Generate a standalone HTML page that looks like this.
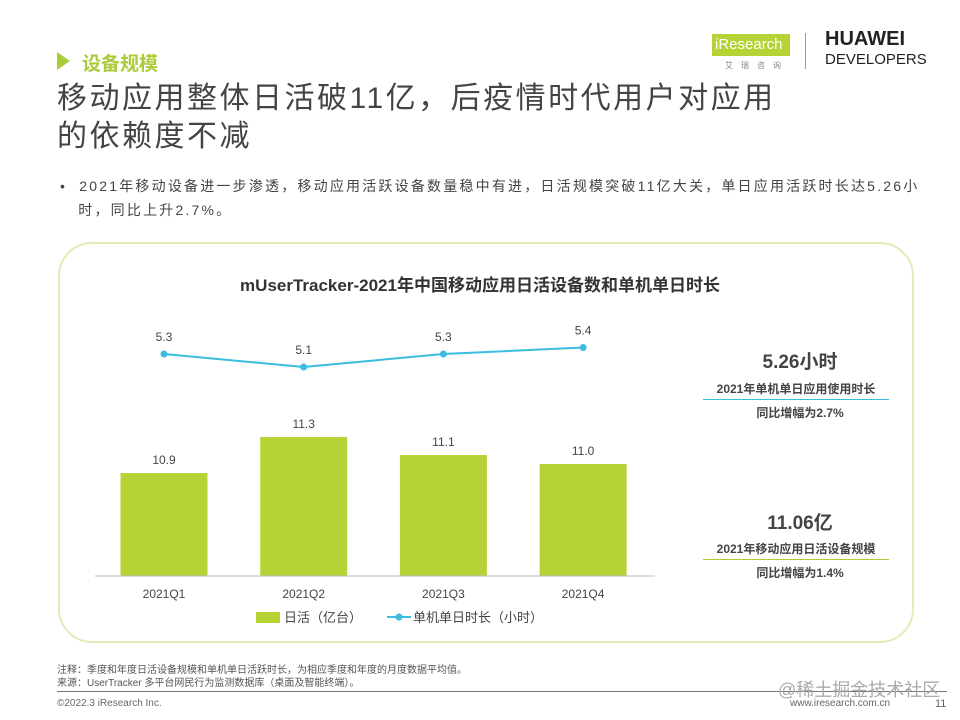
<!DOCTYPE html>
<html><head><meta charset="utf-8">
<style>
body{margin:0;width:960px;height:720px;background:#fff;font-family:"Liberation Sans","Noto Sans CJK SC",sans-serif;position:relative;overflow:hidden;color:#3a3a3a}
.a{position:absolute;white-space:nowrap}
</style></head><body>
<div class="a" style="left:57px;top:52px;width:0;height:0;border-left:13px solid #a8cc3a;border-top:9px solid transparent;border-bottom:9px solid transparent"></div>
<div class="a" style="left:82px;top:49px;font-size:19px;color:#a8cc3a;font-weight:bold">设备规模</div>
<div class="a" style="left:57px;top:80px;font-size:30px;line-height:38px;color:#444;letter-spacing:2.5px">移动应用整体日活破11亿，后疫情时代用户对应用<br>的依赖度不减</div>
<div class="a" style="left:60px;top:174px;font-size:14px;line-height:24px;color:#444;letter-spacing:2.2px">•&nbsp;&nbsp;2021年移动设备进一步渗透，移动应用活跃设备数量稳中有进，日活规模突破11亿大关，单日应用活跃时长达5.26小<br>&nbsp;&nbsp;&nbsp;时，同比上升2.7%。</div>
<div class="a" style="left:712px;top:34px;width:75px;height:22px;background:#b5d334;color:#fff;font-size:15px;line-height:22px;padding-left:3px">iResearch</div>
<div class="a" style="left:725px;top:60px;font-size:8px;color:#888;letter-spacing:8px">艾瑞咨询</div>
<div class="a" style="left:805px;top:33px;width:1px;height:36px;background:#999"></div>
<div class="a" style="left:825px;top:28px;font-size:20px;font-weight:bold;color:#222;line-height:22px">HUAWEI</div>
<div class="a" style="left:825px;top:51px;font-size:15px;color:#222">DEVELOPERS</div>
<div class="a" style="left:58px;top:242px;width:852px;height:397px;border:2px solid #e3ecb8;border-radius:34px"></div>
<svg class="a" style="left:0;top:0" width="960" height="720" id="chart"></svg>
<div class="a" style="left:680px;top:347px;width:240px;text-align:center;font-size:19px;font-weight:bold;color:#444">5.26小时</div>
<div class="a" style="left:703px;top:380px;width:186px;text-align:center;font-size:12px;font-weight:bold;color:#444;border-bottom:1.5px solid #3bbcd8;padding-bottom:2px">2021年单机单日应用使用时长</div>
<div class="a" style="left:680px;top:404px;width:240px;text-align:center;font-size:12px;font-weight:bold;color:#444">同比增幅为2.7%</div>
<div class="a" style="left:680px;top:508px;width:240px;text-align:center;font-size:19px;font-weight:bold;color:#444">11.06亿</div>
<div class="a" style="left:703px;top:540px;width:186px;text-align:center;font-size:12px;font-weight:bold;color:#444;border-bottom:1.5px solid #a8cc3a;padding-bottom:2px">2021年移动应用日活设备规模</div>
<div class="a" style="left:680px;top:564px;width:240px;text-align:center;font-size:12px;font-weight:bold;color:#444">同比增幅为1.4%</div>
<div class="a" style="left:57px;top:664px;font-size:10px;line-height:13px;color:#555">注释：季度和年度日活设备规模和单机单日活跃时长，为相应季度和年度的月度数据平均值。<br>来源：UserTracker 多平台网民行为监测数据库（桌面及智能终端）。</div>
<div class="a" style="left:57px;top:691px;width:890px;height:1px;background:#777"></div>
<div class="a" style="left:778px;top:676px;font-size:18px;color:#aaa">@稀土掘金技术社区</div>
<div class="a" style="left:57px;top:698px;font-size:10px;color:#666">©2022.3 iResearch Inc.</div>
<div class="a" style="left:790px;top:698px;font-size:10px;color:#666">www.iresearch.com.cn</div>
<div class="a" style="left:935px;top:698px;font-size:11px;color:#666">11</div>
<script>
const categories=["2021Q1","2021Q2","2021Q3","2021Q4"];
const dau=[10.9,11.3,11.1,11.0];
const hours=[5.3,5.1,5.3,5.4];
const svg=document.getElementById('chart');const NS='http://www.w3.org/2000/svg';
function mk(t,a,txt){const e=document.createElementNS(NS,t);for(const k in a)e.setAttribute(k,a[k]);if(txt!=null)e.textContent=txt;svg.appendChild(e);return e;}
const base=576;
function xC(i){return 164+i*139.7;}
function yBar(v){return base-(v-9.756)*90;}
function yLine(v){return 354-(v-5.3)*65;}
let t=mk('text',{x:480,y:291,'text-anchor':'middle','font-size':17,'font-weight':'bold',fill:'#333'},'mUserTracker-2021年中国移动应用日活设备数和单机单日时长');


dau.forEach((v,i)=>{
 const r=mk('rect',{x:xC(i)-43.5,y:yBar(v),width:87,height:base-yBar(v),fill:'#b5d334'});
 
 
 const l=mk('text',{x:xC(i),y:yBar(v)-9,'text-anchor':'middle','font-size':12,fill:'#444'},v.toFixed(1));
 
 
 const c=mk('text',{x:xC(i),y:598,'text-anchor':'middle','font-size':12,fill:'#444'},categories[i]);
 
 
});
const ax=mk('line',{x1:95,y1:base,x2:655,y2:base,stroke:'#bbb','stroke-width':1});


const pl=mk('polyline',{points:hours.map((v,i)=>xC(i)+','+yLine(v)).join(' '),fill:'none',stroke:'#3bbde0','stroke-width':2});


hours.forEach((v,i)=>{
 const c=mk('circle',{cx:xC(i),cy:yLine(v),r:3.5,fill:'#3bbde0'});
 
 
 const l=mk('text',{x:xC(i),y:yLine(v)-13,'text-anchor':'middle','font-size':12,fill:'#444'},v.toFixed(1));
 
 
});
const lg1=mk('rect',{x:256,y:612,width:24,height:11,fill:'#b5d334'});


const lt1=mk('text',{x:284,y:622,'font-size':13,fill:'#444'},'日活（亿台）');


const lg2=mk('line',{x1:387,y1:617,x2:411,y2:617,stroke:'#3bbde0','stroke-width':2});


const lg3=mk('circle',{cx:399,cy:617,r:3.5,fill:'#3bbde0'});


const lt2=mk('text',{x:413,y:622,'font-size':13,fill:'#444'},'单机单日时长（小时）');


</script>
</body></html>
